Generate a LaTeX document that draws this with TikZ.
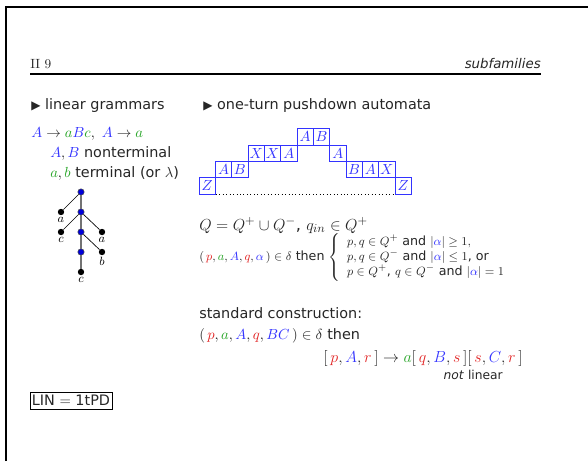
\documentclass[tikz,border=0pt]{standalone}
\usepackage{fontspec}
\newfontfamily\dejavu{DejaVu Sans}
\usetikzlibrary{arrows.meta, positioning}

\definecolor{myblue}{RGB}{51,51,255}
\definecolor{mygreen}{RGB}{40,165,40}
\definecolor{myred}{RGB}{225,35,35}

\newcommand{\bl}[1]{\textcolor{myblue}{#1}}
\newcommand{\gr}[1]{\textcolor{mygreen}{#1}}
\newcommand{\rd}[1]{\textcolor{myred}{#1}}
\newcommand{\slide}{\fontsize{10.8}{13}\selectfont}
\newcommand{\slidesmall}{\fontsize{9.5}{10.1}\selectfont}

\tikzset{
  txt/.style={anchor=base west, inner sep=0pt, font=\dejavu\slide, text=black!85},
  stackbox/.style={draw=myblue, text=myblue, line width=0.6pt, minimum size=12.25pt, inner sep=0pt, font=\slide},
  inner/.style={circle, fill=blue!85!black, draw=black!70, inner sep=0pt, minimum size=4.8pt},
  leaf/.style={circle, fill=black, inner sep=0pt, minimum size=4.8pt},
  lbl/.style={inner sep=0pt, font=\small}
}

\begin{document}
\begin{tikzpicture}[x=0.75pt, y=-0.75pt]

    \useasboundingbox (0,0) rectangle (588,461);

    % frame edges
    \draw[line width=1.5pt] (6,461) -- (6,6.5) -- (588,6.5);

    % header
    \node[txt, font=\normalsize] (title) at (30,68) {II 9};
    \node[txt, anchor=base east, font=\dejavu\itshape] (sub) at (541,68) {subfamilies};
    \draw[line width=1.2pt] (30,74) -- (541,74);

    % linear grammars
    \node[txt] (lin) at (31,109) {{\small ▶}\ linear grammars};
    \node[txt] (rule) at (31,137) {$\bl{A}\rightarrow\gr{a}\bl{B}\gr{c},\ \bl{A}\rightarrow\gr{a}$};
    \node[txt] (nonterm) at (50,157) {$\bl{A},\bl{B}$ nonterminal};
    \node[txt] (term) at (50,177) {$\gr{a},\gr{b}$ terminal (or $\lambda$)};

    % derivation tree
    \node[inner] (r)  at (81,192) {};
    \node[inner] (n1) at (81,212) {};
    \node[inner] (n2) at (81,232) {};
    \node[inner] (n3) at (81,252) {};
    \node[leaf] (la)  at (61,212) {};
    \node[leaf] (lc)  at (61,232) {};
    \node[leaf] (ra)  at (102,232) {};
    \node[leaf] (lb)  at (102,252) {};
    \node[leaf] (lcc) at (81,272) {};
    \draw[black!55, line width=1.2pt] (r) -- (n1) -- (n2) -- (n3) -- (lcc);
    \draw[line width=0.5pt] (r) -- (la);
    \draw[line width=0.5pt] (n1) -- (lc);
    \draw[line width=0.5pt] (n1) -- (ra);
    \draw[line width=0.5pt] (n2) -- (lb);
    \node[lbl, below=1pt of la] (tla) {$a$};
    \node[lbl, below=1pt of lc] (tlc) {$c$};
    \node[lbl, below=1pt of ra] (tra) {$a$};
    \node[lbl, below=1pt of lb] (tlb) {$b$};
    \node[lbl, below=1pt of lcc] (tlcc) {$c$};

    % one-turn pushdown
    \node[txt] (otp) at (203,109) {{\small ▶}\ one-turn pushdown automata};

    % stack contents
    \foreach \c/\r/\s in {0/0/Z, 1/1/A, 2/1/B, 3/2/X, 4/2/X, 5/2/A, 6/3/A, 7/3/B,
                          8/2/A, 9/1/B, 10/1/A, 11/1/X, 12/0/Z}
        \node[stackbox] (s\c) at ({199+16.33*(\c+0.5)},{194-16.33*(\r+0.5)}) {$\s$};
    \draw[dotted, line width=0.6pt] (s0.south east) -- (s12.south west);

    % states
    \node[txt, font=\dejavu\fontsize{12.3}{14}\selectfont] (states) at (199,230) {$Q=Q^{+}\cup Q^{-}$,\ $q_{in}\in Q^{+}$};
    \node[txt, font=\dejavu\slidesmall] (delta) at (199,260) {$(\,\rd{p},\gr{a},\bl{A},\rd{q},\bl{\alpha}\,)\in\delta$ then\
        $\left\{\begin{array}{@{\hspace{5pt}}l@{}}
        p,q\in Q^{+}\mbox{ and }|\bl{\alpha}|\geq 1,\\
        p,q\in Q^{-}\mbox{ and }|\bl{\alpha}|\leq 1\mbox{, or}\\
        p\in Q^{+}\mbox{, }q\in Q^{-}\mbox{ and }|\bl{\alpha}|=1
        \end{array}\right.$};

    % standard construction
    \node[txt] (std) at (199,318) {standard construction:};
    \node[txt] (trans) at (199,339) {$(\,\rd{p},\gr{a},\bl{A},\rd{q},\bl{BC}\,)\in\delta$ then};
    \node[txt, anchor=base east, font=\dejavu\fontsize{11.5}{13}\selectfont] (prod) at (523,362)
        {$[\,\rd{p},\bl{A},\rd{r}\,]\rightarrow\gr{a}[\,\rd{q},\bl{B},\rd{s}\,][\,\rd{s},\bl{C},\rd{r}\,]$};
    \node[txt, anchor=base east, font=\dejavu\fontsize{9.2}{11}\selectfont] (notlin) at (503,379) {\textit{not} linear};

    % result
    \node[txt, anchor=center, draw=black, line width=0.6pt, minimum width=61.5pt, minimum height=12.75pt] (res) at (71,400.5) {LIN $=$ 1tPD};

\end{tikzpicture}
\end{document}
